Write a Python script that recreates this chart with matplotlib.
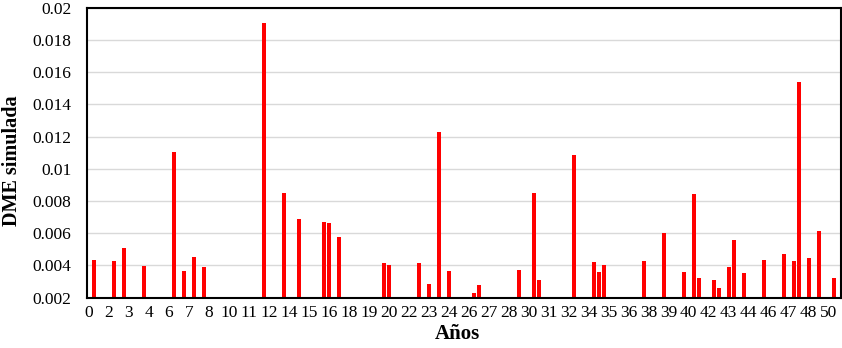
import numpy as np
import matplotlib
matplotlib.use('Agg')
import matplotlib.pyplot as plt

# periodos de 4 meses (categoria k -> k/3 años) con DME simulada
periodo = [1, 5, 7, 11, 17, 19, 21, 23, 35, 39, 42, 47, 48, 50, 59, 60,
           66, 68, 70, 72, 77, 78, 86, 89, 90, 97, 101, 102, 103, 111, 115,
           119, 121, 122, 125, 126, 128, 129, 131, 135, 139, 141, 142, 144,
           146, 149]
dme = [0.00434, 0.00428, 0.00508, 0.00397, 0.01104, 0.00366, 0.00452, 0.0039,
       0.01905, 0.0085, 0.00688, 0.0067, 0.00663, 0.00577, 0.00413, 0.00403,
       0.00415, 0.00285, 0.01228, 0.00366, 0.00229, 0.00279, 0.00372, 0.0085,
       0.0031, 0.01086, 0.00421, 0.00359, 0.00403, 0.00428, 0.00601, 0.00359,
       0.00843, 0.00322, 0.0031, 0.0026, 0.0039, 0.00557, 0.00353, 0.00434,
       0.00471, 0.00426, 0.01537, 0.00446, 0.00614, 0.00325]
n_periodos = 151
tick_pos = list(range(0, 149, 4))
tick_lbl = [str(int(np.ceil(k / 3))) for k in tick_pos]
y_ticks = [0.002, 0.004, 0.006, 0.008, 0.01, 0.012, 0.014, 0.016, 0.018, 0.02]

plt.rcParams['font.family'] = ['Liberation Serif', 'DejaVu Serif']

fig = plt.figure(figsize=(8.42, 3.48), dpi=100)
ax = fig.add_axes([86.5 / 842, 1 - 297.7 / 348, (841 - 86.5) / 842, (297.7 - 7.7) / 348])

ax.bar(periodo, dme, width=0.8, color='#ff0000', zorder=3)

ax.set_xlim(-0.5, n_periodos - 0.5)
ax.set_ylim(0.002, 0.02)
ax.set_xticks(tick_pos)
ax.set_xticklabels(tick_lbl)
ax.set_yticks(y_ticks)
ax.set_yticklabels([f'{v:g}' for v in y_ticks])
ax.tick_params(axis='both', length=0, labelsize=12.5)
ax.tick_params(axis='y', pad=11)
ax.tick_params(axis='x', pad=5)
ax.yaxis.grid(True, color='#d9d9d9', linewidth=1.0, zorder=0)
ax.set_axisbelow(True)
for s in ax.spines.values():
    s.set_linewidth(1.5)
    s.set_color('black')
    s.set_zorder(4)

fig.text(457 / 842, 1 - 334 / 348, 'Años', ha='center', va='center',
         fontsize=15, fontweight='bold')
fig.text(12.5 / 842, 1 - 161 / 348, 'DME simulada', ha='center', va='center',
         rotation=90, fontsize=14.5, fontweight='bold')

fig.savefig('out.png', dpi=100)
